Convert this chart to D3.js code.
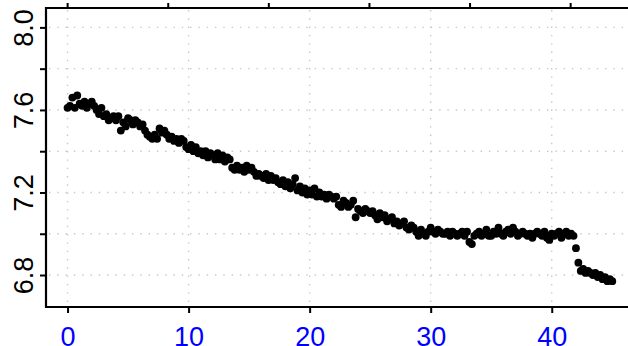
<!DOCTYPE html>
<html>
<head>
<meta charset="utf-8">
<script src="https://cdn.jsdelivr.net/npm/d3@7"></script>
<style>
  html, body { margin: 0; padding: 0; background: #fff; }
  svg { display: block; }
  text { font-family: "Liberation Sans", Arial, sans-serif; }
</style>
</head>
<body>
<svg id="chart" width="628" height="346"></svg>
<script>
// Sampling times (every 0.2 units)
const times = [
  0, 0.2, 0.4, 0.6, 0.8, 1, 1.2, 1.4, 1.6, 1.8, 2, 2.2, 2.4, 2.6, 2.8, 3, 3.2, 3.4, 3.6, 3.8, 4, 4.2, 4.4, 4.6, 4.8,
  5, 5.2, 5.4, 5.6, 5.8, 6, 6.2, 6.4, 6.6, 6.8, 7, 7.2, 7.4, 7.6, 7.8, 8, 8.2, 8.4, 8.6, 8.8, 9, 9.2, 9.4, 9.6, 9.8,
  10, 10.2, 10.4, 10.6, 10.8, 11, 11.2, 11.4, 11.6, 11.8, 12, 12.2, 12.4, 12.6, 12.8, 13, 13.2, 13.4, 13.6, 13.8, 14, 14.2, 14.4, 14.6, 14.8,
  15, 15.2, 15.4, 15.6, 15.8, 16, 16.2, 16.4, 16.6, 16.8, 17, 17.2, 17.4, 17.6, 17.8, 18, 18.2, 18.4, 18.6, 18.8, 19, 19.2, 19.4, 19.6, 19.8,
  20, 20.2, 20.4, 20.6, 20.8, 21, 21.2, 21.4, 21.6, 21.8, 22, 22.2, 22.4, 22.6, 22.8, 23, 23.2, 23.4, 23.6, 23.8, 24, 24.2, 24.4, 24.6, 24.8,
  25, 25.2, 25.4, 25.6, 25.8, 26, 26.2, 26.4, 26.6, 26.8, 27, 27.2, 27.4, 27.6, 27.8, 28, 28.2, 28.4, 28.6, 28.8, 29, 29.2, 29.4, 29.6, 29.8,
  30, 30.2, 30.4, 30.6, 30.8, 31, 31.2, 31.4, 31.6, 31.8, 32, 32.2, 32.4, 32.6, 32.8, 33, 33.2, 33.4, 33.6, 33.8, 34, 34.2, 34.4, 34.6, 34.8,
  35, 35.2, 35.4, 35.6, 35.8, 36, 36.2, 36.4, 36.6, 36.8, 37, 37.2, 37.4, 37.6, 37.8, 38, 38.2, 38.4, 38.6, 38.8, 39, 39.2, 39.4, 39.6, 39.8,
  40, 40.2, 40.4, 40.6, 40.8, 41, 41.2, 41.4, 41.6, 41.8, 42, 42.2, 42.4, 42.6, 42.8, 43, 43.2, 43.4, 43.6, 43.8, 44, 44.2, 44.4, 44.6, 44.8,
  45
];

// Measured values
const values = [
  7.61, 7.62, 7.66, 7.61, 7.67, 7.63, 7.62, 7.64, 7.61, 7.63, 7.64, 7.62, 7.60, 7.58, 7.61,
  7.57, 7.58, 7.55, 7.56, 7.57, 7.55, 7.57, 7.50, 7.54, 7.52,
  7.56, 7.55, 7.53, 7.55, 7.54, 7.52, 7.53, 7.50, 7.48, 7.47,
  7.46, 7.48, 7.46, 7.51, 7.49, 7.50, 7.48, 7.46, 7.47, 7.45,
  7.46, 7.44, 7.46, 7.45, 7.42,
  7.41, 7.43, 7.40, 7.42, 7.39, 7.40, 7.38, 7.40, 7.37, 7.39,
  7.38, 7.36, 7.39, 7.36, 7.38, 7.35, 7.37, 7.36, 7.32, 7.31,
  7.33, 7.31, 7.32, 7.30, 7.33,
  7.31, 7.32, 7.30, 7.28, 7.29, 7.28, 7.27, 7.29, 7.26, 7.28,
  7.26, 7.27, 7.25, 7.24, 7.26, 7.23, 7.25, 7.22, 7.24, 7.27,
  7.21, 7.23, 7.20, 7.22, 7.19,
  7.21, 7.19, 7.22, 7.18, 7.20, 7.18, 7.19, 7.17, 7.19, 7.18,
  7.17, 7.18, 7.14, 7.13, 7.16, 7.15, 7.13, 7.14, 7.16, 7.08,
  7.12, 7.11, 7.10, 7.12, 7.11,
  7.10, 7.11, 7.09, 7.07, 7.10, 7.08, 7.09, 7.06, 7.07, 7.08,
  7.05, 7.06, 7.04, 7.05, 7.06, 7.03, 7.02, 7.04, 7.03, 7.01,
  6.99, 7.02, 7.00, 6.99, 7.01,
  7.03, 7.01, 7.00, 7.02, 7.01, 7.00, 7.00, 7.01, 6.99, 7.01,
  7.00, 6.99, 7.00, 7.01, 6.99, 7.01, 6.96, 6.95, 6.99, 7.00,
  7.01, 6.99, 7.00, 7.02, 6.99,
  6.99, 7.01, 7.00, 7.03, 7.00, 6.99, 7.01, 7.02, 7.00, 7.03,
  7.01, 6.99, 7.00, 7.01, 7.00, 6.99, 7.00, 6.98, 7.00, 7.01,
  7.00, 6.99, 7.01, 6.98, 6.97,
  7.00, 6.99, 7.00, 7.01, 6.98, 7.00, 7.01, 6.99, 7.00, 6.99,
  6.93, 6.86, 6.82, 6.83, 6.81, 6.82, 6.81, 6.80, 6.81, 6.79,
  6.80, 6.78, 6.79, 6.77, 6.78,
  6.77
];

// Axis ticks
const xTicks = [0, 10, 20, 30, 40];
const yTicks = [6.8, 7.0, 7.2, 7.4, 7.6, 7.8, 8.0];
const yLabels = [6.8, 7.2, 7.6, 8.0];
const topTicks = [0, 1, 2, 3, 4, 5];

const svg = d3.select("#chart");
const plotLeft = 46, plotRight = 628, plotTop = 8, plotBottom = 307;

const x = d3.scaleLinear().domain([-1.78, 46.3]).range([plotLeft, plotRight]);
const y = d3.scaleLinear().domain([6.645, 8.094]).range([plotBottom, plotTop]);
const xTop = d3.scaleLinear().domain([-0.21, 5.575]).range([plotLeft, plotRight]);

// Dotted grid
const grid = svg.append("g")
  .attr("stroke", "#c8c8c8")
  .attr("stroke-width", 1.4)
  .attr("stroke-dasharray", "1.4,6.9");
grid.selectAll("line.v").data(xTicks).join("line")
  .attr("class", "v")
  .attr("x1", d => x(d)).attr("x2", d => x(d))
  .attr("y1", plotTop + 2).attr("y2", plotBottom);
grid.selectAll("line.h").data(yTicks).join("line")
  .attr("class", "h")
  .attr("x1", plotLeft + 3).attr("x2", plotRight)
  .attr("y1", d => y(d)).attr("y2", d => y(d));

// Points
svg.append("g").selectAll("circle").data(times).join("circle")
  .attr("cx", d => x(d))
  .attr("cy", (d, i) => y(values[i]))
  .attr("r", 3.9)
  .attr("fill", "#000");

// Bottom axis
const xAxis = d3.axisBottom(x).tickValues(xTicks).tickSize(6).tickFormat(d3.format("d"));
const gx = svg.append("g").attr("transform", `translate(0,${plotBottom})`).call(xAxis);
gx.select(".domain").remove();
gx.selectAll(".tick line").attr("stroke", "#000").attr("stroke-width", 2);
gx.selectAll(".tick text")
  .attr("fill", "#0000ff")
  .attr("font-size", 27)
  .attr("dy", null)
  .attr("y", 38.5);

// Left axis
const yAxis = d3.axisLeft(y).tickValues(yTicks).tickSize(6)
  .tickFormat(d => yLabels.some(v => Math.abs(v - d) < 1e-9) ? d3.format(".1f")(d) : "");
const gy = svg.append("g").attr("transform", `translate(${plotLeft},0)`).call(yAxis);
gy.select(".domain").remove();
gy.selectAll(".tick line").attr("stroke", "#000").attr("stroke-width", 2);
gy.selectAll(".tick text")
  .attr("fill", "#000")
  .attr("font-size", 27)
  .attr("text-anchor", "middle")
  .attr("x", null).attr("dy", null)
  .attr("transform", "translate(-13.5,0) rotate(-90)")
  .attr("y", 0);

// Top axis (unlabelled)
const topAxis = d3.axisTop(xTop).tickValues(topTicks).tickSize(5).tickFormat("");
const gt = svg.append("g").attr("transform", `translate(0,${plotTop})`).call(topAxis);
gt.select(".domain").remove();
gt.selectAll(".tick line").attr("stroke", "#000").attr("stroke-width", 2);

// Frame lines: left, top, bottom
const frame = svg.append("g").attr("stroke", "#000").attr("stroke-width", 2.2).attr("fill", "none");
frame.append("line").attr("x1", plotLeft).attr("x2", plotLeft).attr("y1", plotTop - 1).attr("y2", plotBottom + 1);
frame.append("line").attr("x1", plotLeft - 1).attr("x2", plotRight).attr("y1", plotTop).attr("y2", plotTop);
frame.append("line").attr("x1", plotLeft - 1).attr("x2", plotRight).attr("y1", plotBottom).attr("y2", plotBottom);
</script>
</body>
</html>
